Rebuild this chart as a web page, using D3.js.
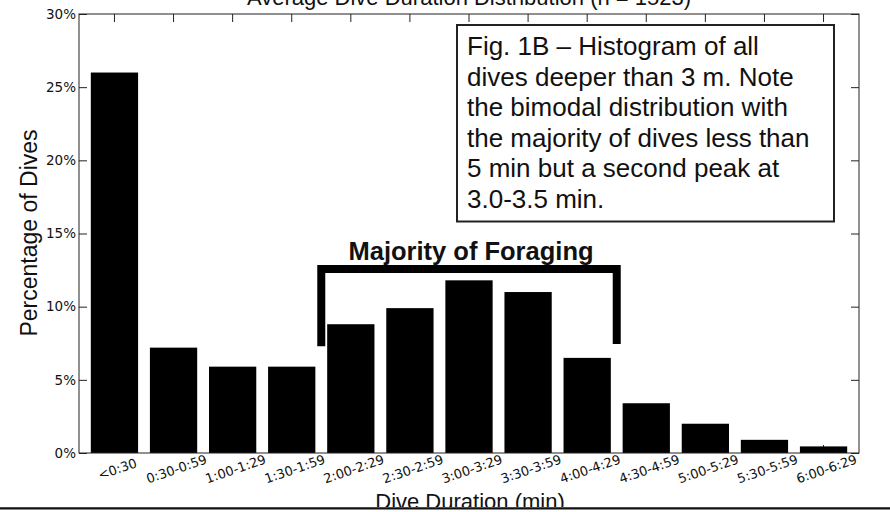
<!DOCTYPE html>
<html>
<head>
<meta charset="utf-8">
<script src="https://cdn.jsdelivr.net/npm/d3@7/dist/d3.min.js"></script>
<style>
  html, body { margin: 0; padding: 0; background: #fff; }
  svg { display: block; }
</style>
</head>
<body>
<svg id="chart" width="890" height="512"></svg>
<script>
// ---- data ----
const categories = ["<0:30","0:30-0:59","1:00-1:29","1:30-1:59","2:00-2:29","2:30-2:59","3:00-3:29","3:30-3:59","4:00-4:29","4:30-4:59","5:00-5:29","5:30-5:59","6:00-6:29"];
const percentages = [26.0, 7.2, 5.9, 5.9, 8.8, 9.9, 11.8, 11.0, 6.5, 3.4, 2.0, 0.9, 0.45];
const yTicks = [0, 5, 10, 15, 20, 25, 30];
const foragingRange = ["2:00-2:29", "4:00-4:29"];
const titleText = "Average Dive Duration Distribution (n = 1523)";
const noteLines = [
  "Fig. 1B \u2013 Histogram of all",
  "dives deeper than 3 m. Note",
  "the bimodal distribution with",
  "the majority of dives less than",
  "5 min but a second peak at",
  "3.0-3.5 min."
];
const bracketLabel = "Majority of Foraging";
const xLabel = "Dive Duration (min)";
const yLabel = "Percentage of Dives";

// ---- layout ----
const svg = d3.select("#chart");
const L = 79, R = 859, T = 14, B = 453;

const x = d3.scaleBand().domain(categories).range([L, R]).padding(0.2);
const y = d3.scaleLinear().domain([0, 30]).range([B, T]);

const tickFont = "'DejaVu Sans', sans-serif";
const mainFont = "'Liberation Sans', Arial, Helvetica, sans-serif";

// title (cut off by top edge, as in the reference)
svg.append("text")
  .attr("x", (L + R) / 2).attr("y", 5)
  .attr("text-anchor", "middle")
  .attr("font-family", mainFont).attr("font-size", 22).attr("fill", "#111")
  .text(titleText);

// axes ticks (inward)
const gTop = svg.append("g").attr("transform", `translate(0,${T})`)
  .call(d3.axisTop(x).tickSize(-8).tickFormat(""));
const gBot = svg.append("g").attr("transform", `translate(0,${B})`)
  .call(d3.axisBottom(x).tickSize(-8).tickFormat(""));
const gLeft = svg.append("g").attr("transform", `translate(${L},0)`)
  .call(d3.axisLeft(y).tickValues(yTicks).tickSize(-8).tickPadding(3).tickFormat(d => d + "%"));
const gRight = svg.append("g").attr("transform", `translate(${R},0)`)
  .call(d3.axisRight(y).tickValues(yTicks).tickSize(-8).tickFormat(""));
[gTop, gBot, gLeft, gRight].forEach(g => {
  g.select(".domain").remove();
  g.selectAll(".tick line").attr("stroke", "#222").attr("stroke-width", 1);
});
gLeft.selectAll(".tick text")
  .attr("font-family", tickFont).attr("font-size", 13.5).attr("fill", "#111");

// bars
svg.append("g").selectAll("rect")
  .data(categories)
  .join("rect")
  .attr("x", d => x(d))
  .attr("width", x.bandwidth())
  .attr("y", (d, i) => y(percentages[i]))
  .attr("height", (d, i) => y(0) - y(percentages[i]))
  .attr("fill", "#000");

// frame
svg.append("rect")
  .attr("x", L).attr("y", T).attr("width", R - L).attr("height", B - T)
  .attr("fill", "none").attr("stroke", "#222").attr("stroke-width", 1);

// x tick labels (rotated)
svg.append("g").selectAll("text")
  .data(categories)
  .join("text")
  .attr("transform", d => `translate(${x(d) + x.bandwidth() / 2 + 3},469) rotate(-19)`)
  .attr("text-anchor", "middle")
  .attr("dominant-baseline", "central")
  .attr("font-family", tickFont).attr("font-size", 13).attr("fill", "#111")
  .text(d => d);

// bracket
const gapHalf = x.step() * x.paddingInner() / 2;
const bx0 = x(foragingRange[0]) - gapHalf;
const bx1 = x(foragingRange[1]) + x.bandwidth() + gapHalf;
svg.append("path")
  .attr("d", `M${bx0},${y(7.3)} V${y(12.57)} H${bx1} V${y(7.45)}`)
  .attr("fill", "none").attr("stroke", "#000").attr("stroke-width", 8)
  .attr("stroke-linejoin", "miter");
svg.append("text")
  .attr("x", (bx0 + bx1) / 2 + 2).attr("y", 260)
  .attr("text-anchor", "middle")
  .attr("font-family", mainFont).attr("font-weight", "bold").attr("font-size", 25.5).attr("fill", "#111")
  .text(bracketLabel);

// note box
svg.append("rect")
  .attr("x", 457).attr("y", 25).attr("width", 377).attr("height", 196.5)
  .attr("fill", "#fff").attr("stroke", "#222").attr("stroke-width", 2);
svg.append("g").selectAll("text")
  .data(noteLines)
  .join("text")
  .attr("x", 467).attr("y", (d, i) => 55 + i * 30.5)
  .attr("font-family", mainFont).attr("font-size", 26).attr("fill", "#111")
  .text(d => d);

// axis labels
svg.append("text")
  .attr("transform", `translate(37,233) rotate(-90)`)
  .attr("text-anchor", "middle")
  .attr("font-family", mainFont).attr("font-size", 23).attr("fill", "#111")
  .text(yLabel);
svg.append("text")
  .attr("x", 470).attr("y", 509)
  .attr("text-anchor", "middle")
  .attr("font-family", mainFont).attr("font-size", 22).attr("fill", "#111")
  .text(xLabel);

// bottom rule (crops the x label, as in the reference)
svg.append("rect").attr("x", 0).attr("y", 507).attr("width", 890).attr("height", 5).attr("fill", "#fff");
svg.append("line")
  .attr("x1", 0).attr("x2", 890).attr("y1", 508.3).attr("y2", 508.3)
  .attr("stroke", "#111").attr("stroke-width", 2.2);
</script>
</body>
</html>
